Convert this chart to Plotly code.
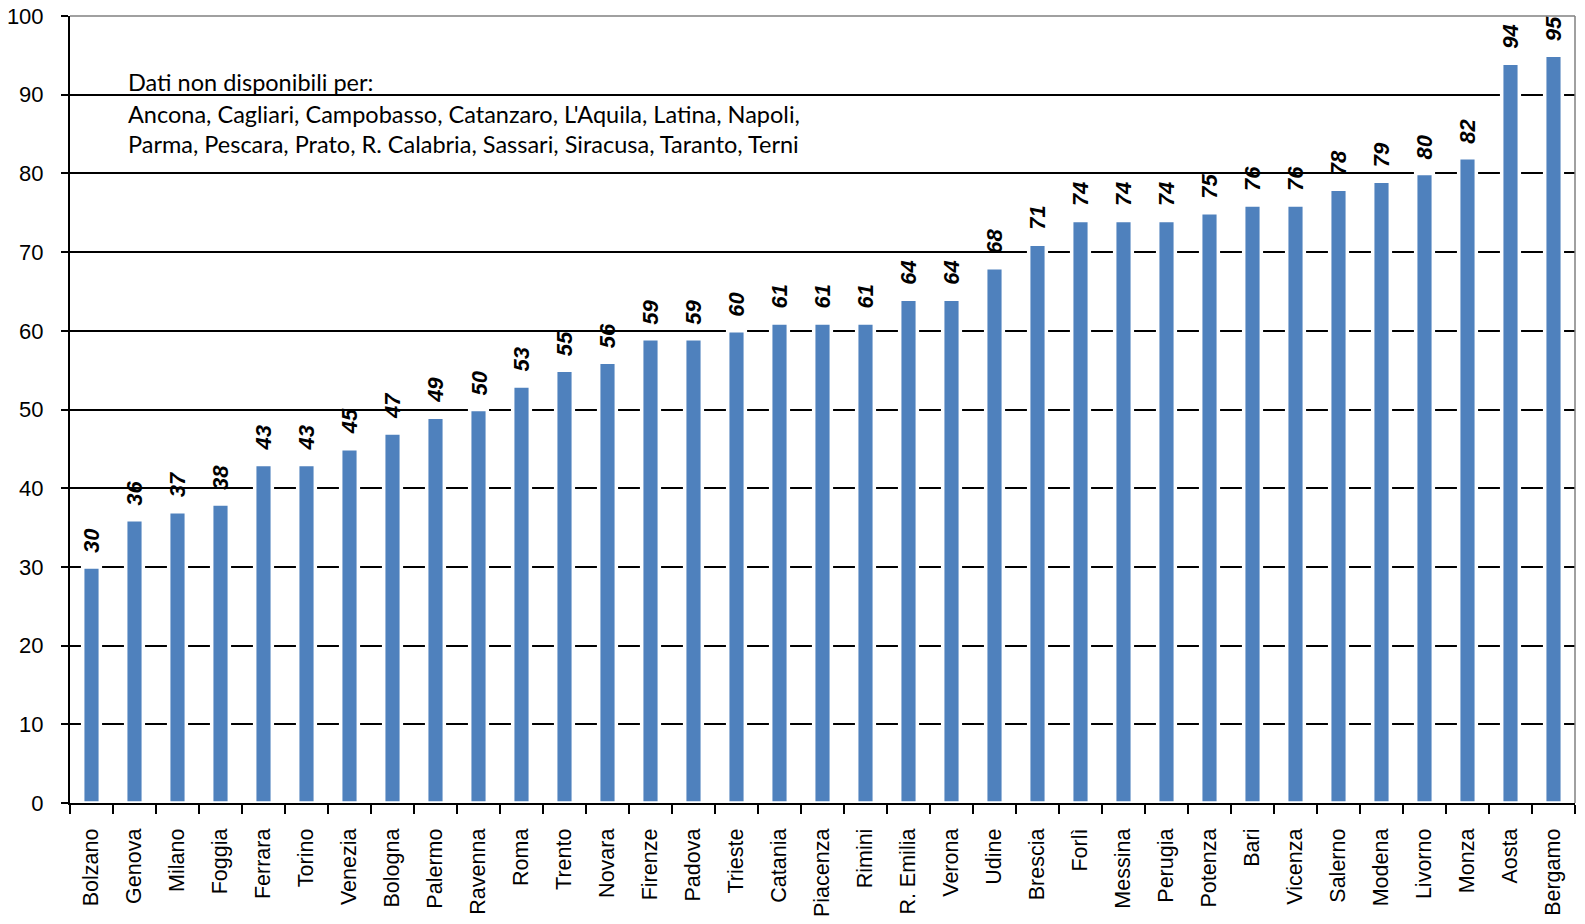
import plotly.graph_objects as go

cities = ["Bolzano", "Genova", "Milano", "Foggia", "Ferrara", "Torino", "Venezia", "Bologna",
          "Palermo", "Ravenna", "Roma", "Trento", "Novara", "Firenze", "Padova", "Trieste",
          "Catania", "Piacenza", "Rimini", "R. Emilia", "Verona", "Udine", "Brescia", "Forlì",
          "Messina", "Perugia", "Potenza", "Bari", "Vicenza", "Salerno", "Modena", "Livorno",
          "Monza", "Aosta", "Bergamo"]
values = [30, 36, 37, 38, 43, 43, 45, 47, 49, 50, 53, 55, 56, 59, 59, 60, 61, 61, 61, 64,
          64, 68, 71, 74, 74, 74, 75, 76, 76, 78, 79, 80, 82, 94, 95]
note_lines = ["Dati non disponibili per:",
              "Ancona, Cagliari, Campobasso, Catanzaro, L'Aquila, Latina, Napoli,",
              "Parma, Pescara, Prato, R. Calabria, Sassari, Siracusa, Taranto, Terni"]
note_y = [91.6, 87.6, 83.7]
y_ticks = list(range(0, 101, 10))

NOTE_FONT = "Lato, 'Open Sans', sans-serif"
AX_FONT = "'Liberation Sans', Arial, sans-serif"

fig = go.Figure()
fig.add_trace(go.Bar(
    x=cities, y=values,
    width=0.41,
    marker=dict(color="#4F81BD", line=dict(color="white", width=3.5)),
    hoverinfo="x+y",
))

# value labels above bars (rotated, bold italic)
for c, v in zip(cities, values):
    fig.add_annotation(x=c, y=v, xref="x", yref="y", text=str(v),
                       textangle=-90, showarrow=False,
                       xanchor="center", yanchor="bottom", yshift=12,
                       font=dict(family=AX_FONT, size=22, color="black",
                                 weight="bold", style="italic"))

for line, yy in zip(note_lines, note_y):
    fig.add_annotation(text=line, x=0.037, xref="paper", y=yy, yref="y",
                       xanchor="left", yanchor="middle", showarrow=False,
                       font=dict(family=NOTE_FONT, size=23.5, color="black"))

# top and right frame in grey
fig.add_shape(type="line", xref="paper", yref="paper", x0=0, x1=1, y0=1, y1=1,
              line=dict(color="#808080", width=1.5))
fig.add_shape(type="line", xref="paper", yref="paper", x0=1, x1=1, y0=0, y1=1,
              line=dict(color="#808080", width=1.5))

fig.update_layout(
    width=1585, height=924,
    margin=dict(l=70, r=10, t=16, b=121),
    paper_bgcolor="white", plot_bgcolor="white",
    showlegend=False,
    font=dict(family=AX_FONT, color="black"),
    xaxis=dict(
        automargin=False,
        showline=True, linecolor="black", linewidth=2,
        ticks="outside", ticklen=9, tickcolor="black", tickwidth=2,
        tickson="boundaries", tickangle=-90, ticklabelstandoff=15,
        ticklabeloverflow="allow",
        tickfont=dict(family=AX_FONT, size=21.5, color="black"),
        showgrid=False,
    ),
    yaxis=dict(
        automargin=False,
        range=[0, 100], tickvals=y_ticks,
        showline=True, linecolor="black", linewidth=2,
        ticks="outside", ticklen=7, tickcolor="black", tickwidth=2,
        ticklabelstandoff=13, ticklabeloverflow="allow",
        tickfont=dict(family=AX_FONT, size=22, color="black"),
        showgrid=True, gridcolor="black", gridwidth=1.5,
        zeroline=False,
    ),
)

# remove the default 8px page margin so the 1585x924 figure fills the window exactly
fig.write_html("out.html",
               config={"displayModeBar": False},
               post_script="document.body.style.margin='0';document.body.style.overflow='hidden';")
